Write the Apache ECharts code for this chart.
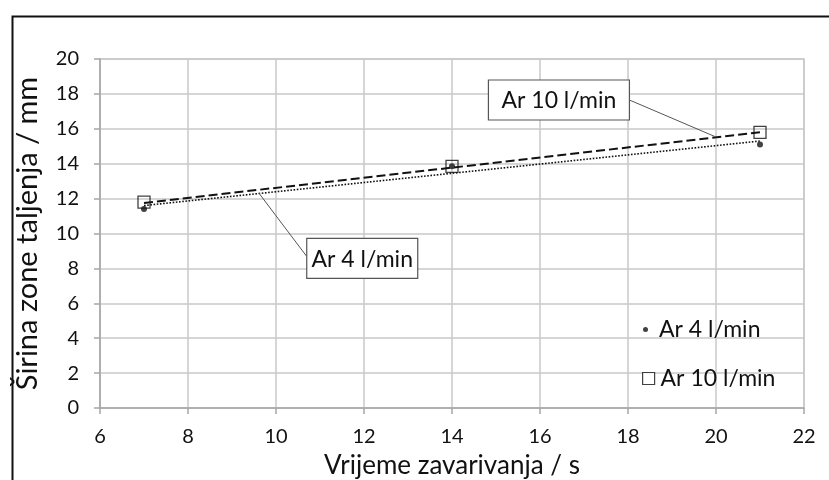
<!DOCTYPE html>
<html>
<head>
<meta charset="utf-8">
<script src="https://cdn.jsdelivr.net/npm/echarts@6/dist/echarts.min.js"></script>
<style>html,body{margin:0;padding:0;background:#fff}#c{width:829px;height:480px}</style>
</head>
<body>
<div id="c"></div>
<script>
// ---- data ----
const weldTime = [7, 14, 21];                 // s
const ar4 = [11.4, 13.85, 15.1];              // mm
const ar10 = [11.8, 13.85, 15.8];             // mm
const trendX = [7, 21];
const ar4Trend = [11.6, 15.3];                // dotted trendline
const ar10Trend = [11.75, 15.8];              // dashed trendline
const xTicks = [6, 8, 10, 12, 14, 16, 18, 20, 22];
const yTicks = [0, 2, 4, 6, 8, 10, 12, 14, 16, 18, 20];
const seriesNames = ['Ar 4 l/min', 'Ar 10 l/min'];
const xTitle = 'Vrijeme zavarivanja / s';
const yTitle = 'Širina zone taljenja / mm';

const FONT = 'Lato';
const chart = echarts.init(document.getElementById('c'), null, {renderer: 'canvas'});
const pairs = (xs, ys) => xs.map((x, i) => [x, ys[i]]);

const gridColor = '#c9c9c9';
const option = {
  animation: false,
  textStyle: {fontFamily: FONT},
  grid: {left: 100, right: 25, top: 59, bottom: 72, show: true, borderColor: gridColor, borderWidth: 1.5,
         backgroundColor: 'transparent', containLabel: false, outerBoundsMode: 'none'},
  xAxis: {
    type: 'value', min: xTicks[0], max: xTicks[xTicks.length - 1], interval: 2,
    name: xTitle, nameLocation: 'middle', nameGap: 45,
    nameTextStyle: {fontSize: 26, color: '#111', fontFamily: FONT},
    axisLine: {show: true, lineStyle: {color: '#a6a6a6', width: 1.5}},
    axisTick: {show: true, length: 6, lineStyle: {color: '#a6a6a6', width: 1.5}},
    axisLabel: {fontSize: 20, color: '#111', margin: 19, fontFamily: FONT},
    splitLine: {show: true, lineStyle: {color: gridColor, width: 1.5}}
  },
  yAxis: {
    type: 'value', min: yTicks[0], max: yTicks[yTicks.length - 1], interval: 2,
    name: yTitle, nameLocation: 'middle', nameGap: 58,
    nameTextStyle: {fontSize: 29, color: '#111', fontFamily: FONT},
    axisLine: {show: true, lineStyle: {color: '#a6a6a6', width: 1.5}},
    axisTick: {show: true, length: 6, lineStyle: {color: '#a6a6a6', width: 1.5}},
    axisLabel: {fontSize: 20, color: '#111', margin: 21, fontFamily: FONT},
    splitLine: {show: true, lineStyle: {color: gridColor, width: 1.5}}
  },
  legend: [
    {
      data: [{name: seriesNames[0], icon: 'circle'}],
      left: 638, top: 313, itemWidth: 5, itemHeight: 5, itemGap: 0,
      textStyle: {fontSize: 23, color: '#111', fontFamily: FONT, padding: [0, 0, 0, 6]},
      itemStyle: {color: '#111', borderWidth: 0}
    },
    {
      data: [{name: seriesNames[1], icon: 'rect'}],
      left: 637, top: 362, itemWidth: 12, itemHeight: 12, itemGap: 0,
      textStyle: {fontSize: 23, color: '#111', fontFamily: FONT, padding: [0, 0, 0, 1]},
      itemStyle: {color: '#fff', borderColor: '#111', borderWidth: 1.2}
    }
  ],
  series: [
    {
      name: seriesNames[1] + ' trend', type: 'line', data: pairs(trendX, ar10Trend),
      symbol: 'none', lineStyle: {color: '#111', width: 2, type: [9, 4]}, z: 3, silent: true
    },
    {
      name: seriesNames[0] + ' trend', type: 'line', data: pairs(trendX, ar4Trend),
      symbol: 'none', lineStyle: {color: '#111', width: 1.6, type: [1.6, 1.6]}, z: 3, silent: true
    },
    {
      name: seriesNames[1], type: 'scatter', data: pairs(weldTime, ar10),
      symbol: 'rect', symbolSize: 12,
      itemStyle: {color: 'rgba(255,255,255,0)', borderColor: '#111', borderWidth: 1.3}, z: 4
    },
    {
      name: seriesNames[0], type: 'scatter', data: pairs(weldTime, ar4),
      symbol: 'circle', symbolSize: 6, itemStyle: {color: '#111'}, z: 5
    }
  ]
};
chart.setOption(option);

// callouts anchored in data coordinates
const callouts = [
  {text: seriesNames[1], box: [16.43, 17.65], tip: [20.0, 15.53], w: 141, h: 40},
  {text: seriesNames[0], box: [11.96, 8.57], tip: [9.61, 12.32], w: 111, h: 40}
];
const graphics = [
  {type: 'rect', left: 10, top: 14, shape: {x: 0, y: 0, width: 900, height: 600},
   style: {fill: 'none', stroke: '#111', lineWidth: 2}, z: 100, silent: true}
];
callouts.forEach(c => {
  const p = chart.convertToPixel({gridIndex: 0}, c.box);
  const t = chart.convertToPixel({gridIndex: 0}, c.tip);
  const bx = p[0] - c.w / 2, by = p[1] - c.h / 2;
  const ax = t[0] > p[0] ? bx + c.w : bx;
  const ay = t[0] > p[0] ? p[1] : p[1] - 2;
  graphics.push({type: 'line', shape: {x1: ax, y1: ay, x2: t[0], y2: t[1]},
    style: {stroke: '#555', lineWidth: 1}, z: 50, silent: true});
  graphics.push({type: 'rect', shape: {x: bx, y: by, width: c.w, height: c.h},
    style: {fill: '#fff', stroke: '#555', lineWidth: 1.2}, z: 51, silent: true});
  graphics.push({type: 'text', x: p[0], y: p[1] + 1,
    style: {text: c.text, fill: '#111', font: '23px ' + FONT, textAlign: 'center', textVerticalAlign: 'middle'},
    z: 52, silent: true});
});
chart.setOption({graphic: graphics});
</script>
</body>
</html>
